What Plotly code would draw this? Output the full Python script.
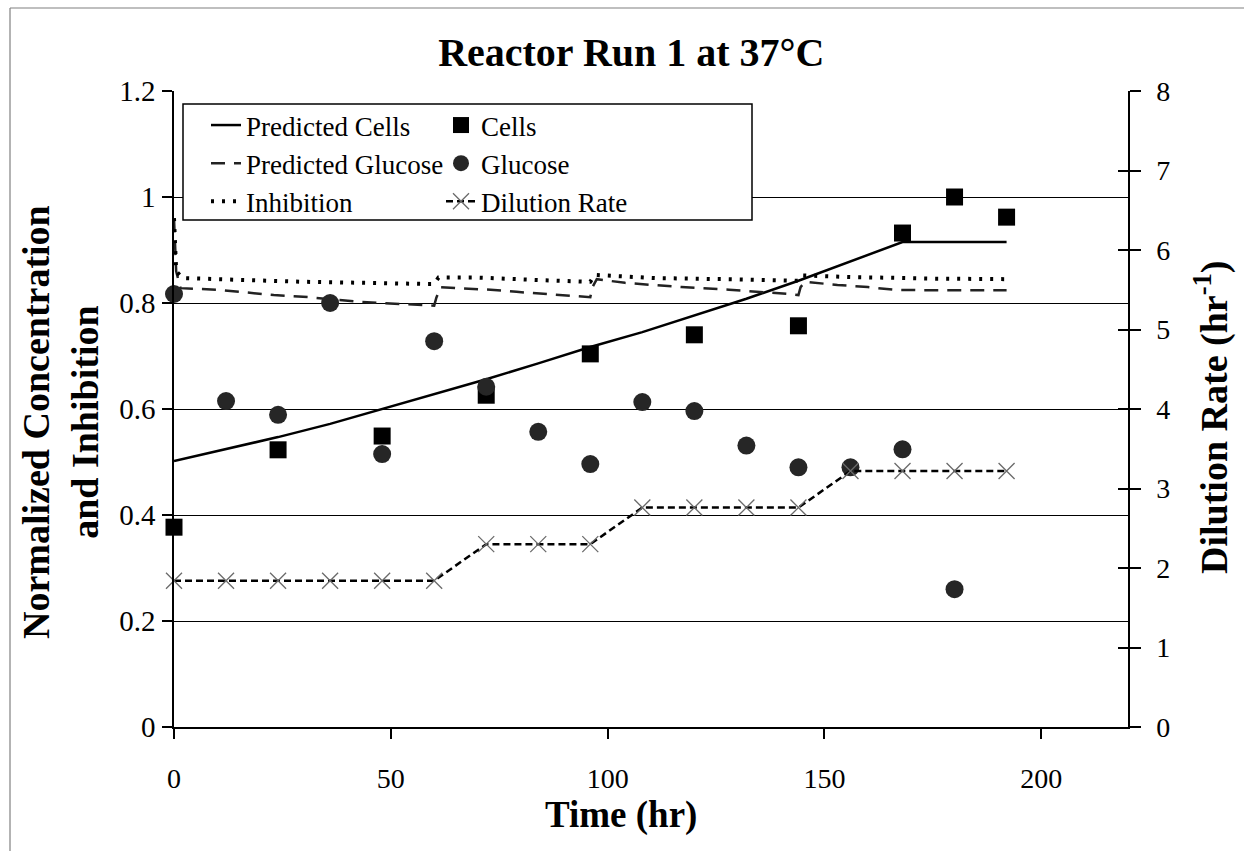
import plotly.graph_objects as go

# ---- measured data ----
sample_time = [0, 12, 24, 36, 48, 60, 72, 84, 96, 108, 120, 132, 144, 156, 168, 180, 192]

cells_time = [0, 24, 48, 72, 96, 120, 144, 168, 180, 192]
cells = [0.377, 0.523, 0.549, 0.626, 0.704, 0.740, 0.757, 0.932, 1.000, 0.962]

glucose_time = [0, 12, 24, 36, 48, 60, 72, 84, 96, 108, 120, 132, 144, 156, 168, 180]
glucose = [0.817, 0.615, 0.589, 0.800, 0.515, 0.728, 0.642, 0.557, 0.496, 0.613,
           0.596, 0.531, 0.490, 0.490, 0.524, 0.260]

dilution_rate = [1.84, 1.84, 1.84, 1.84, 1.84, 1.84, 2.30, 2.30, 2.30, 2.76,
                 2.76, 2.76, 2.76, 3.22, 3.22, 3.22, 3.22]

# ---- model predictions ----
pred_cells_time = [0, 12, 24, 36, 48, 60, 72, 84, 96, 108, 120, 132, 144, 156, 168, 180, 192]
pred_cells = [0.502, 0.524, 0.547, 0.572, 0.600, 0.627, 0.656, 0.686, 0.717, 0.745,
              0.776, 0.808, 0.842, 0.878, 0.915, 0.915, 0.915]

pred_glucose_time = [0, 0.5, 1.5, 10, 23, 31, 43, 56, 60, 60.5, 61.5, 65, 73, 79, 86, 92,
                     96, 96.5, 97.5, 104, 110, 117, 128, 136, 142, 144, 144.5, 145.5,
                     153, 160, 166, 173, 192]
pred_glucose = [0.96, 0.86, 0.828, 0.825, 0.815, 0.811, 0.802, 0.797, 0.795, 0.810, 0.830,
                0.828, 0.825, 0.821, 0.817, 0.813, 0.811, 0.830, 0.845, 0.838, 0.834, 0.830,
                0.825, 0.821, 0.817, 0.815, 0.830, 0.840, 0.834, 0.830, 0.825, 0.824, 0.824]

inhibition_time = [0, 0.5, 2, 10, 30, 58, 60, 61, 70, 85, 95, 96, 97, 111, 127, 143,
                   144, 145, 156, 175, 192]
inhibition = [0.96, 0.86, 0.847, 0.845, 0.840, 0.836, 0.836, 0.848, 0.848, 0.843, 0.840,
              0.840, 0.853, 0.847, 0.845, 0.842, 0.842, 0.852, 0.849, 0.846, 0.845]

left_ticks = [0, 0.2, 0.4, 0.6, 0.8, 1.0, 1.2]
left_tick_text = ["0", "0.2", "0.4", "0.6", "0.8", "1", "1.2"]
right_ticks = [0, 1, 2, 3, 4, 5, 6, 7, 8]
time_ticks = [0, 50, 100, 150, 200]

SERIF = "Times New Roman, Liberation Serif, serif"

fig = go.Figure()

fig.add_trace(go.Scatter(
    x=pred_cells_time, y=pred_cells, name="Predicted Cells", mode="lines",
    line=dict(color="black", width=2.5), legend="legend"))
fig.add_trace(go.Scatter(
    x=pred_glucose_time, y=pred_glucose, name="Predicted Glucose", mode="lines",
    line=dict(color="#222222", width=2.5, dash="14px,9px"), legend="legend"))
fig.add_trace(go.Scatter(
    x=inhibition_time, y=inhibition, name="Inhibition", mode="lines",
    line=dict(color="black", width=4, dash="3px,8px"), legend="legend"))

fig.add_trace(go.Scatter(
    x=cells_time, y=cells, name="Cells", mode="markers", cliponaxis=False,
    marker=dict(symbol="square", size=17, color="black"), legend="legend2"))
fig.add_trace(go.Scatter(
    x=glucose_time, y=glucose, name="Glucose", mode="markers", cliponaxis=False,
    marker=dict(symbol="circle", size=18, color="#262626"), legend="legend2"))
fig.add_trace(go.Scatter(
    x=sample_time, y=dilution_rate, name="Dilution Rate", mode="lines+markers", yaxis="y2",
    cliponaxis=False,
    line=dict(color="black", width=2.5, dash="7px,4px"),
    marker=dict(symbol="x-thin", size=16, line=dict(color="#6a6a6a", width=1.3)),
    legend="legend2"))

# empty trace on a third axis so the inner tick marks of the right axis are drawn
fig.add_trace(go.Scatter(x=[None], y=[None], yaxis="y3", showlegend=False))

legend_font = dict(family=SERIF, size=27, color="black")
legend_top = (727 - 101) / 636

fig.update_layout(
    width=1244, height=851,
    margin=dict(l=174, r=116, t=91, b=124),
    paper_bgcolor="white", plot_bgcolor="white",
    title=dict(text="<b>Reactor Run 1 at 37°C</b>", font=dict(family=SERIF, size=40, color="black"),
               x=0.5075, xanchor="center", y=1 - 52 / 851, yanchor="middle", yref="container"),
    xaxis=dict(range=[0, 220], tickvals=time_ticks, ticks="outside", ticklen=10, tickwidth=1.5,
               tickcolor="black", showline=True, linecolor="black", linewidth=1.5,
               showgrid=False, zeroline=False, ticklabelstandoff=16,
               tickfont=dict(family=SERIF, size=28, color="black")),
    yaxis=dict(range=[0, 1.2], tickvals=left_ticks, ticktext=left_tick_text,
               ticks="outside", ticklen=10, tickwidth=1.5, tickcolor="black",
               showline=True, linecolor="black", linewidth=1.5,
               showgrid=True, gridcolor="black", gridwidth=1.4, zeroline=False,
               ticklabelstandoff=1, tickfont=dict(family=SERIF, size=29, color="black")),
    yaxis2=dict(range=[0, 8], tickvals=right_ticks, overlaying="y", side="right",
                ticks="outside", ticklen=11, tickwidth=1.5, tickcolor="black",
                showline=True, linecolor="black", linewidth=1.5, showgrid=False, zeroline=False,
                ticklabelstandoff=10, tickfont=dict(family=SERIF, size=28, color="black")),
    yaxis3=dict(range=[0, 8], tickvals=right_ticks, overlaying="y", side="right",
                ticks="inside", ticklen=10, tickwidth=1.5, tickcolor="black",
                showticklabels=False, showline=False, showgrid=False, zeroline=False),
    legend=dict(x=(206 - 174) / 954, y=legend_top, xanchor="left", yanchor="top",
                bgcolor="rgba(0,0,0,0)", font=legend_font, tracegroupgap=0),
    legend2=dict(x=(441 - 174) / 954, y=legend_top, xanchor="left", yanchor="top",
                 bgcolor="rgba(0,0,0,0)", font=legend_font, tracegroupgap=0),
    showlegend=True,
)

# legend frame (white fill hides the gridline behind it)
fig.add_shape(type="rect", xref="paper", yref="paper",
              x0=(183 - 174) / 954, x1=(752 - 174) / 954,
              y0=(727 - 220) / 636, y1=(727 - 104) / 636,
              line=dict(color="black", width=1.5), fillcolor="white", layer="above")

# chart-area border on the left and top edges
fig.add_shape(type="line", xref="paper", yref="paper",
              x0=(10 - 174) / 954, x1=(10 - 174) / 954, y0=(727 - 860) / 636, y1=(727 - 8) / 636,
              line=dict(color="#808080", width=1.2))
fig.add_shape(type="line", xref="paper", yref="paper",
              x0=(10 - 174) / 954, x1=(1250 - 174) / 954, y0=(727 - 8) / 636, y1=(727 - 8) / 636,
              line=dict(color="#808080", width=1.2))

# axis titles
fig.add_annotation(text="<b>Time (hr)</b>", xref="paper", yref="paper",
                   x=(621 - 174) / 954, y=(727 - 815) / 636, xanchor="center", yanchor="middle",
                   showarrow=False, font=dict(family=SERIF, size=37, color="black"))
fig.add_annotation(text="<b>Normalized Concentration<br>and Inhibition</b>", xref="paper", yref="paper",
                   x=(61 - 174) / 954, y=(727 - 422) / 636, xanchor="center", yanchor="middle",
                   textangle=-90, showarrow=False, font=dict(family=SERIF, size=38, color="black"))
fig.add_annotation(text="<b>Dilution Rate (hr<sup>-1</sup>)</b>", xref="paper", yref="paper",
                   x=(1212 - 174) / 954, y=(727 - 418) / 636, xanchor="center", yanchor="middle",
                   textangle=-90, showarrow=False, font=dict(family=SERIF, size=38, color="black"))

fig.write_html("out.html")
